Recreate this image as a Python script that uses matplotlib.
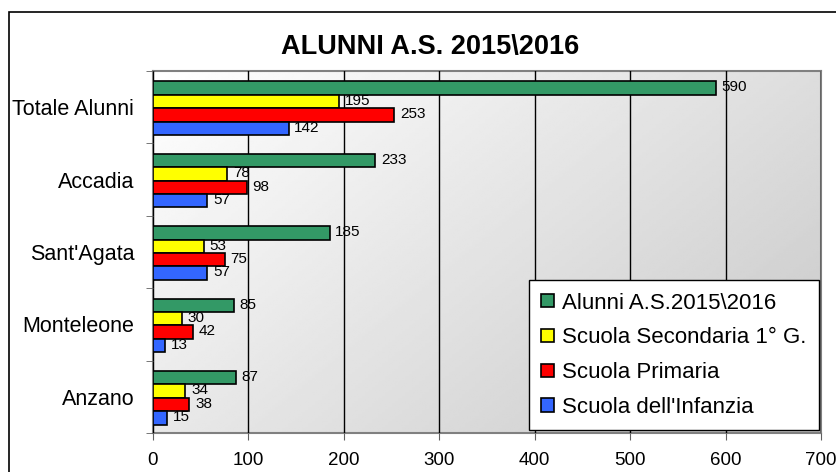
import matplotlib.pyplot as plt
import numpy as np
from matplotlib.patches import Rectangle

plt.rcParams['font.family'] = ['Liberation Sans', 'DejaVu Sans']

# Data
categories = ['Totale Alunni', 'Accadia', "Sant'Agata", 'Monteleone', 'Anzano']
alunni = [590, 233, 185, 85, 87]
secondaria = [195, 78, 53, 30, 34]
primaria = [253, 98, 75, 42, 38]
infanzia = [142, 57, 57, 13, 15]
series_names = ['Alunni A.S.2015\\2016', 'Scuola Secondaria 1° G.',
                'Scuola Primaria', "Scuola dell'Infanzia"]
colors = ['#339966', '#FFFF00', '#FF0000', '#3366FF']
xticks = [0, 100, 200, 300, 400, 500, 600, 700]

fig = plt.figure(figsize=(8.37, 4.72), dpi=100)
ax = fig.add_axes([153 / 837, 1 - 433 / 472, (821 - 153) / 837, (433 - 71) / 472])

# outer chart frame
fig.patches.append(Rectangle((9 / 837, -0.1), 1.2, 1 - 12 / 472 + 0.1,
                             transform=fig.transFigure, fill=False,
                             edgecolor='black', lw=1.2))

# gradient background
gx, gy = np.meshgrid(np.linspace(0, 1, 200), np.linspace(0, 1, 200))
grad = 1.0 - 0.22 * (gx * 0.6 + gy * 0.4)
ax.imshow(grad, cmap='gray', vmin=0, vmax=1, extent=[0, 700, -0.5, 4.5],
          aspect='auto', origin='upper', zorder=0)

y = np.arange(len(categories))[::-1]
h = 0.185
offsets = [1.5 * h, 0.5 * h, -0.5 * h, -1.5 * h]
for vals, name, c, off in zip([alunni, secondaria, primaria, infanzia],
                              series_names, colors, offsets):
    ax.barh(y + off - 0.015, vals, height=h, color=c, edgecolor='black',
            lw=1.2, label=name, zorder=3)
    for yi, v in zip(y, vals):
        ax.text(v + 6, yi + off - 0.005, str(v), va='center', ha='left',
                fontsize=11, zorder=4)

ax.set_xlim(0, 700)
ax.set_ylim(-0.5, 4.5)
ax.set_xticks(xticks)
ax.set_yticks(y)
ax.set_yticklabels(categories, fontsize=15.5)
ax.set_yticks(np.arange(-0.5, 5, 1), minor=True)
ax.tick_params(axis='y', which='major', length=0, pad=13.5)
ax.tick_params(axis='y', which='minor', length=5, color='#606060')
ax.tick_params(axis='x', length=5, color='#606060', labelsize=13.5, pad=9)
ax.grid(axis='x', color='black', lw=1, zorder=1)
ax.set_axisbelow(False)
for s in ax.spines.values():
    s.set_color('#808080')
    s.set_linewidth(1.5)

fig.text(430 / 837, 1 - 47 / 472, 'ALUNNI A.S. 2015\\2016', ha='center',
         va='center', fontsize=19.5, fontweight='bold')

leg = ax.legend(loc='lower right', bbox_to_anchor=(0.997, 0.008), fontsize=16,
                frameon=True, fancybox=False, framealpha=1, edgecolor='black',
                handlelength=0.55, handleheight=0.55, handletextpad=0.4,
                labelspacing=0.62, borderpad=0.55, borderaxespad=0)
leg.get_frame().set_linewidth(1)
leg.set_zorder(5)

fig.savefig('out.png', dpi=100)
